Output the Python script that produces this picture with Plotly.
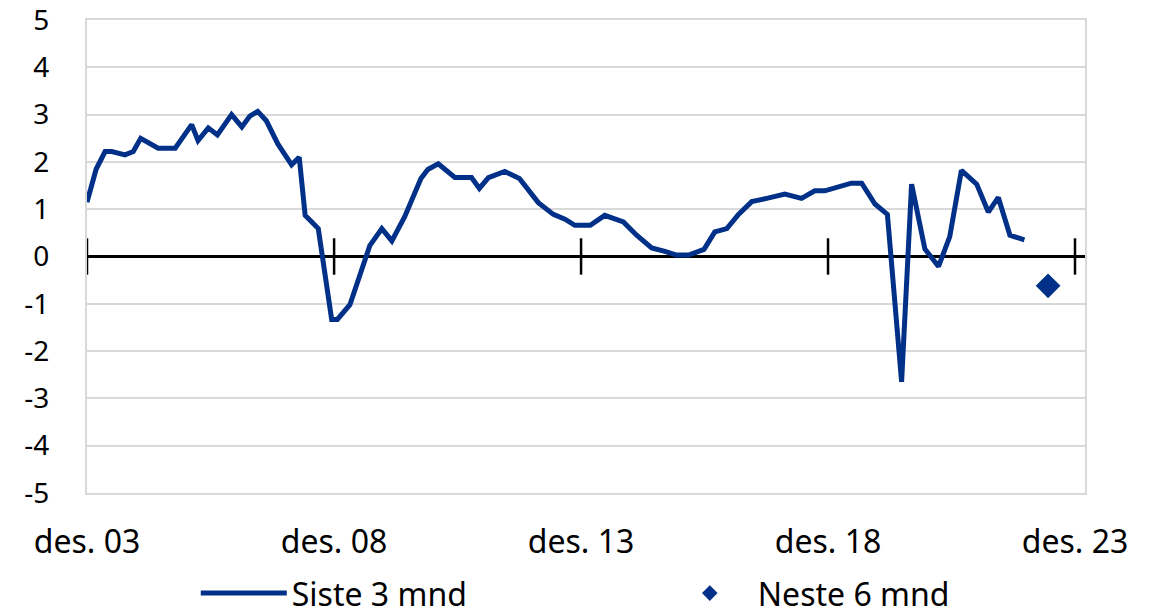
import plotly.graph_objects as go

# ---- data ----
dates = [
    "2003-12-01", "2004-02-07", "2004-04-13", "2004-06-01", "2004-09-07", "2004-11-07",
    "2005-01-01", "2005-05-10", "2005-09-13", "2006-01-13", "2006-03-01", "2006-05-16",
    "2006-07-22", "2006-11-04", "2007-01-19", "2007-03-19", "2007-05-16", "2007-07-19",
    "2007-10-12", "2008-01-22", "2008-03-18", "2008-05-01", "2008-08-06", "2008-11-13",
    "2008-12-25", "2009-03-28", "2009-08-22", "2009-11-19", "2010-02-01", "2010-05-07",
    "2010-09-04", "2010-10-25", "2011-01-10", "2011-05-13", "2011-09-13", "2011-11-10",
    "2012-01-16", "2012-05-16", "2012-09-01", "2012-11-07", "2013-01-19", "2013-05-10",
    "2013-08-04", "2013-10-16", "2014-02-07", "2014-05-25", "2014-10-10", "2015-01-16",
    "2015-05-07", "2015-08-13", "2015-11-07", "2016-02-04", "2016-05-28", "2016-08-16",
    "2016-11-13", "2017-02-07", "2017-05-16", "2017-09-04", "2018-01-16", "2018-05-19",
    "2018-08-25", "2018-11-07", "2019-02-28", "2019-05-22", "2019-08-07", "2019-11-13",
    "2020-02-13", "2020-05-28", "2020-08-10", "2020-11-16", "2021-02-25", "2021-05-19",
    "2021-08-13", "2021-12-04", "2022-02-28", "2022-05-13", "2022-08-07", "2022-11-22",
]
siste_3_mnd = [
    1.15, 1.85, 2.22, 2.22, 2.15, 2.22,
    2.50, 2.29, 2.29, 2.79, 2.45, 2.72,
    2.57, 3.00, 2.74, 2.97, 3.07, 2.87,
    2.38, 1.94, 2.10, 0.87, 0.59, -1.33,
    -1.33, -1.02, 0.23, 0.59, 0.33, 0.84,
    1.65, 1.84, 1.96, 1.67, 1.67, 1.44,
    1.67, 1.80, 1.65, 1.39, 1.14, 0.89,
    0.79, 0.66, 0.66, 0.87, 0.73, 0.45,
    0.18, 0.11, 0.03, 0.03, 0.15, 0.52,
    0.59, 0.89, 1.16, 1.23, 1.32, 1.23,
    1.39, 1.39, 1.48, 1.55, 1.55, 1.11,
    0.89, -2.65, 1.53, 0.16, -0.21, 0.42,
    1.82, 1.53, 0.94, 1.25, 0.45, 0.35,
]
neste_dates = ["2023-05-16"]
neste_6_mnd = [-0.62]

x_tick_dates = ["2003-12-01", "2008-12-01", "2013-12-01", "2018-12-01", "2023-12-01"]
x_tick_labels = ["des. 03", "des. 08", "des. 13", "des. 18", "des. 23"]
y_tick_vals = [-5, -4, -3, -2, -1, 0, 1, 2, 3, 4, 5]
y_tick_labels = ["-5", "-4", "-3", "-2", "-1", "0", "1", "2", "3", "4", "5"]
x_range = ["2003-12-01", "2024-02-13"]
y_range = [-5.002, 5.002]

BLUE = "#003087"
GRID = "#d9d9d9"
FONT = "Noto Sans"

fig = go.Figure()

# cross tick marks on the zero line
fig.add_trace(go.Scatter(
    x=x_tick_dates, y=[0] * len(x_tick_dates), mode="markers",
    marker=dict(symbol="line-ns", size=26, color="black",
                line=dict(color="black", width=2.5)),
    showlegend=False, hoverinfo="skip", cliponaxis=False,
))
fig.add_trace(go.Scatter(
    x=dates, y=siste_3_mnd, mode="lines", name="Siste 3 mnd",
    line=dict(color=BLUE, width=5),
))
fig.add_trace(go.Scatter(
    x=neste_dates, y=neste_6_mnd, mode="markers", name="Neste 6 mnd",
    marker=dict(symbol="diamond", size=19, color=BLUE),
))

fig.update_layout(
    width=1160, height=614,
    margin=dict(l=87, r=75, t=20, b=121, autoexpand=False),
    paper_bgcolor="white", plot_bgcolor="white",
    font=dict(family=FONT, size=28, color="black"),
    hovermode=False,
    showlegend=True,
    legend=dict(orientation="h", x=0.109, xanchor="left", y=-0.212, yanchor="middle",
                font=dict(size=32), entrywidth=365, itemwidth=86,
                itemsizing="constant", bgcolor="rgba(0,0,0,0)"),
)
fig.update_xaxes(
    type="date", range=x_range,
    tickvals=x_tick_dates, ticktext=x_tick_labels,
    showgrid=False, ticks="", ticklabelstandoff=20,
    tickfont=dict(size=32), ticklabeloverflow="allow",
    showline=True, linecolor=GRID, linewidth=2, mirror=True,
    zeroline=False,
)
fig.update_yaxes(
    range=y_range, tickvals=y_tick_vals, ticktext=y_tick_labels,
    showgrid=True, gridcolor=GRID, gridwidth=2,
    zeroline=True, zerolinecolor="black", zerolinewidth=2.5,
    showline=True, linecolor=GRID, linewidth=2, mirror=True,
    ticks="", ticklabelstandoff=30, ticklabeloverflow="allow",
)

fig.write_html("out.html", config={"displayModeBar": False},
               post_script="document.body.style.margin='0';")
